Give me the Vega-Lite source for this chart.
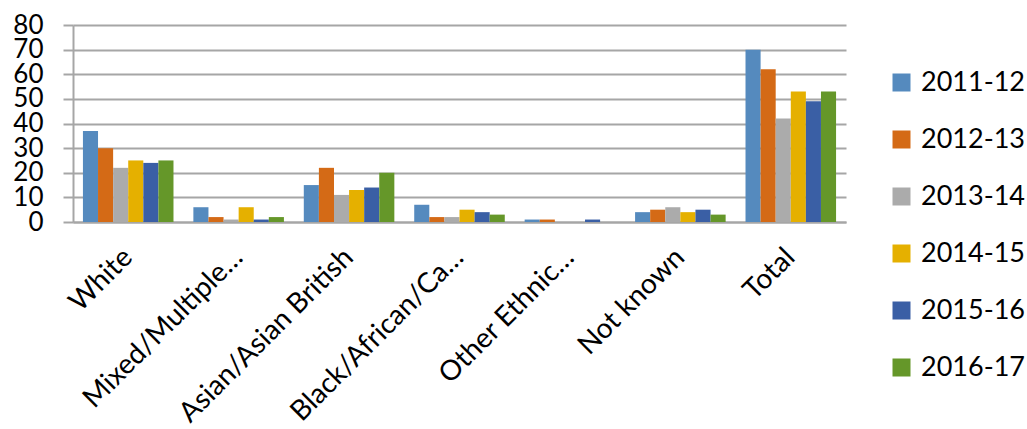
{
  "$schema": "https://vega.github.io/schema/vega-lite/v6.json",
  "width": 773,
  "height": 197,
  "padding": {"left": 12, "top": 12, "right": 0, "bottom": 0},
  "background": "white",
  "config": {
    "font": "Lato",
    "view": {"stroke": null}
  },
  "data": {
    "values": [
      {"group": "White", "year": "2011-12", "value": 37},
      {"group": "White", "year": "2012-13", "value": 30},
      {"group": "White", "year": "2013-14", "value": 22},
      {"group": "White", "year": "2014-15", "value": 25},
      {"group": "White", "year": "2015-16", "value": 24},
      {"group": "White", "year": "2016-17", "value": 25},
      {"group": "Mixed/Multiple…", "year": "2011-12", "value": 6},
      {"group": "Mixed/Multiple…", "year": "2012-13", "value": 2},
      {"group": "Mixed/Multiple…", "year": "2013-14", "value": 1},
      {"group": "Mixed/Multiple…", "year": "2014-15", "value": 6},
      {"group": "Mixed/Multiple…", "year": "2015-16", "value": 1},
      {"group": "Mixed/Multiple…", "year": "2016-17", "value": 2},
      {"group": "Asian/Asian British", "year": "2011-12", "value": 15},
      {"group": "Asian/Asian British", "year": "2012-13", "value": 22},
      {"group": "Asian/Asian British", "year": "2013-14", "value": 11},
      {"group": "Asian/Asian British", "year": "2014-15", "value": 13},
      {"group": "Asian/Asian British", "year": "2015-16", "value": 14},
      {"group": "Asian/Asian British", "year": "2016-17", "value": 20},
      {"group": "Black/African/Ca…", "year": "2011-12", "value": 7},
      {"group": "Black/African/Ca…", "year": "2012-13", "value": 2},
      {"group": "Black/African/Ca…", "year": "2013-14", "value": 2},
      {"group": "Black/African/Ca…", "year": "2014-15", "value": 5},
      {"group": "Black/African/Ca…", "year": "2015-16", "value": 4},
      {"group": "Black/African/Ca…", "year": "2016-17", "value": 3},
      {"group": "Other Ethnic…", "year": "2011-12", "value": 1},
      {"group": "Other Ethnic…", "year": "2012-13", "value": 1},
      {"group": "Other Ethnic…", "year": "2013-14", "value": 0},
      {"group": "Other Ethnic…", "year": "2014-15", "value": 0},
      {"group": "Other Ethnic…", "year": "2015-16", "value": 1},
      {"group": "Other Ethnic…", "year": "2016-17", "value": 0},
      {"group": "Not known", "year": "2011-12", "value": 4},
      {"group": "Not known", "year": "2012-13", "value": 5},
      {"group": "Not known", "year": "2013-14", "value": 6},
      {"group": "Not known", "year": "2014-15", "value": 4},
      {"group": "Not known", "year": "2015-16", "value": 5},
      {"group": "Not known", "year": "2016-17", "value": 3},
      {"group": "Total", "year": "2011-12", "value": 70},
      {"group": "Total", "year": "2012-13", "value": 62},
      {"group": "Total", "year": "2013-14", "value": 42},
      {"group": "Total", "year": "2014-15", "value": 53},
      {"group": "Total", "year": "2015-16", "value": 49},
      {"group": "Total", "year": "2016-17", "value": 53}
    ]
  },
  "mark": {"type": "bar"},
  "encoding": {
    "x": {
      "field": "group",
      "type": "nominal",
      "sort": null,
      "scale": {"paddingInner": 0.18, "paddingOuter": 0.09},
      "axis": {
        "title": null,
        "labelAngle": -45,
        "labelAlign": "right",
        "labelBaseline": "middle",
        "labelFontSize": 28,
        "labelColor": "#000000",
        "labelPadding": 31,
        "labelLimit": 400,
        "labelOverlap": false,
        "ticks": false,
        "domainColor": "#A6A6A6",
        "domainWidth": 2
      }
    },
    "xOffset": {"field": "year", "type": "nominal", "sort": null, "scale": {"paddingInner": 0}},
    "y": {
      "field": "value",
      "type": "quantitative",
      "scale": {"domain": [0, 80], "nice": false},
      "axis": {
        "title": null,
        "values": [0, 10, 20, 30, 40, 50, 60, 70, 80],
        "labelOverlap": false,
        "labelFontSize": 26,
        "labelColor": "#000000",
        "labelPadding": 20,
        "tickSize": 10,
        "tickColor": "#A6A6A6",
        "tickWidth": 2,
        "domainColor": "#A6A6A6",
        "domainWidth": 2,
        "gridColor": "#A6A6A6",
        "gridWidth": 2
      }
    },
    "color": {
      "field": "year",
      "type": "nominal",
      "scale": {
        "domain": ["2011-12", "2012-13", "2013-14", "2014-15", "2015-16", "2016-17"],
        "range": ["#558ABE", "#D46A16", "#ABABAB", "#E5B000", "#3A5FA5", "#659729"]
      },
      "legend": {
        "title": null,
        "orient": "none",
        "legendX": 815,
        "legendY": 44,
        "padding": 0,
        "symbolType": "square",
        "symbolSize": 324,
        "symbolStrokeWidth": 0,
        "labelFontSize": 27,
        "labelColor": "#000000",
        "labelOffset": 6,
        "labelLimit": 200,
        "rowPadding": 29
      }
    }
  }
}
